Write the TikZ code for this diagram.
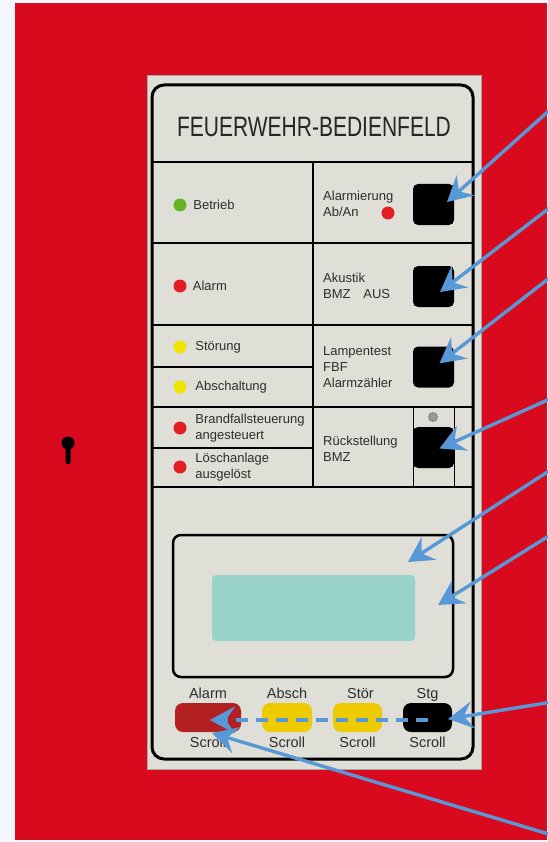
\documentclass[tikz,border=0pt]{standalone}
\usepackage{fontspec}
\setmainfont{Liberation Sans}
\usetikzlibrary{arrows.meta,positioning}

\definecolor{hintergrund}{RGB}{243,247,251}
\definecolor{gehaeuse}{RGB}{218,10,30}
\definecolor{feld}{RGB}{223,223,216}
\definecolor{schrift}{RGB}{45,45,45}
\definecolor{ledgruen}{RGB}{100,180,40}
\definecolor{ledrot}{RGB}{226,30,36}
\definecolor{ledgelb}{RGB}{242,226,0}
\definecolor{lcdtuerkis}{RGB}{152,210,200}
\definecolor{tastrot}{RGB}{178,32,34}
\definecolor{tastgelb}{RGB}{238,202,0}
\definecolor{pfeilblau}{RGB}{88,152,214}

\tikzset{
  led/.style={circle, inner sep=0pt, minimum size=13pt},
  taste/.style={fill=black, rounded corners=5pt, inner sep=0pt, minimum size=41pt},
  beschr/.style={anchor=west, inner sep=0pt, text=schrift, align=left,
    font=\fontsize{13}{16}\selectfont},
  kopf/.style={inner sep=0pt, text=schrift, text depth=0pt,
    font=\fontsize{14.5}{17}\selectfont},
  scrolltaste/.style={rounded corners=8pt, inner sep=0pt, minimum height=29pt},
  raster/.style={line width=2.8pt},
  pfeil/.style={draw=pfeilblau, line width=3.4pt,
    -{Stealth[length=25pt, width=27pt, inset=9pt]}}
}

\begin{document}
\begin{tikzpicture}[x=1pt, y=-1pt]

        \useasboundingbox (0,0) rectangle (547,842);

        % --- Gehaeuse ---
        \fill[hintergrund] (0,0) rectangle (547,842);
        \fill[gehaeuse] (15,3) rectangle (547,840);
        \fill[black] (68,443) circle (6.5pt);
        \fill[black, rounded corners=2pt] (65.5,445) rectangle (70.5,464);

        % --- Bedienfeld ---
        \filldraw[draw=gray!70, fill=feld, line width=0.8pt] (147,75) rectangle (481,769);
        \draw[line width=3pt, rounded corners=12pt] (152,85) rectangle (473,759);
        \node[inner sep=0pt, text=black!85] (titel) at (314,127)
            {\scalebox{0.75}[1]{\fontsize{28}{30}\selectfont FEUERWEHR-BEDIENFELD}};

        % --- Raster ---
        \draw[raster] (152,162) -- (473,162);
        \draw[raster] (313,162) -- (313,487);
        \draw[raster] (152,243) -- (473,243);
        \draw[raster] (152,325) -- (473,325);
        \draw[raster] (152,407) -- (473,407);
        \draw[raster] (152,487) -- (473,487);
        \draw[raster] (152,367) -- (313,367);
        \draw[raster] (152,448) -- (313,448);
        \draw[line width=1pt] (413,407) -- (413,487);
        \draw[line width=1pt] (454,407) -- (454,487);

        % --- Anzeigen links ---
        \node[led, fill=ledgruen] (ledBetrieb) at (180,205) {};
        \node[beschr, right=6.5pt of ledBetrieb] (txtBetrieb) {Betrieb};
        \node[led, fill=ledrot] (ledAlarm) at (180,286) {};
        \node[beschr, right=6pt of ledAlarm] (txtAlarm) {Alarm};
        \node[led, fill=ledgelb] (ledStoerung) at (180,347) {};
        \node[beschr, right=8.5pt of ledStoerung] (txtStoerung) {Störung};
        \node[led, fill=ledgelb] (ledAbschaltung) at (180,387) {};
        \node[beschr, right=8.5pt of ledAbschaltung] (txtAbschaltung) {Abschaltung};
        \node[led, fill=ledrot] (ledBrandfall) at (180,428) {};
        \node[beschr, right=8.5pt of ledBrandfall] (txtBrandfall)
            {Brandfallsteuerung\\angesteuert};
        \node[led, fill=ledrot] (ledLoeschen) at (180,467) {};
        \node[beschr, right=8.5pt of ledLoeschen] (txtLoeschen)
            {Löschanlage\\ausgelöst};

        % --- Tasten rechts ---
        \node[beschr] (txtAlarmierung) at (323,204) {Alarmierung\\Ab/An};
        \node[led, fill=ledrot] (ledAbAn) at (388,213) {};
        \node[taste] (tAlarmierung) at (433.5,204.5) {};
        \node[beschr] (txtAkustik) at (323,286) {Akustik\\BMZ\hspace{0.7em} AUS};
        \node[taste] (tAkustik) at (433.5,286.5) {};
        \node[beschr] (txtLampentest) at (323,367) {Lampentest\\FBF\\Alarmzähler};
        \node[taste] (tLampentest) at (433.5,367) {};
        \node[beschr] (txtRueck) at (323,449) {Rückstellung\\BMZ};
        \node[circle, fill=gray!80, draw=gray, line width=0.8pt, inner sep=0pt,
            minimum size=9pt] (ledRueck) at (433,417) {};
        \node[taste] (tRueck) at (433.5,447.5) {};

        % --- Display ---
        \node[draw, fill=feld, line width=2.5pt, rounded corners=8pt,
            minimum width=280pt, minimum height=142pt] (anzeige) at (313,606) {};
        \node[fill=lcdtuerkis, rounded corners=4pt, inner sep=0pt,
            minimum width=203pt, minimum height=66pt] (lcd) at (313.5,608) {};

        % --- Scroll-Tasten ---
        \node[scrolltaste, fill=tastrot, minimum width=66pt] (bAlarm) at (208,717.5) {};
        \node[scrolltaste, fill=tastgelb, minimum width=50pt] (bAbsch) at (287,717.5) {};
        \node[scrolltaste, fill=tastgelb, minimum width=49pt] (bStoer) at (357.5,717.5) {};
        \node[scrolltaste, fill=black, minimum width=49pt] (bStg) at (427.5,717.5) {};
        \node[kopf, above=4pt of bAlarm] (kAlarm) {Alarm};
        \node[kopf, above=4pt of bAbsch] (kAbsch) {Absch};
        \node[kopf, above=4pt of bStoer, xshift=3pt] (kStoer) {Stör};
        \node[kopf, above=4pt of bStg] (kStg) {Stg};
        \node[kopf, below=5pt of bAlarm] (sAlarm) {Scroll};
        \node[kopf, below=5pt of bAbsch] (sAbsch) {Scroll};
        \node[kopf, below=5pt of bStoer] (sStoer) {Scroll};
        \node[kopf, below=5pt of bStg] (sStg) {Scroll};

        % --- Hinweispfeile ---
        \coordinate (q1) at (552,108);
        \coordinate (q2) at (552,206);
        \coordinate (q3) at (552,276);
        \coordinate (q4) at (552,398);
        \coordinate (q5) at (552,469);
        \coordinate (q6) at (552,534);
        \coordinate (q7) at (552,702);
        \coordinate (q8) at (552,835);
        \draw[pfeil] (q1) -- ([xshift=13.5pt, yshift=2.5pt]tAlarmierung.center);
        \draw[pfeil] (q2) -- ([xshift=6.5pt, yshift=-5.5pt]tAkustik.center);
        \draw[pfeil] (q3) -- ([xshift=6pt, yshift=3.7pt]tLampentest.center);
        \draw[pfeil] (q4) -- ([xshift=6pt, yshift=-1pt]tRueck.center);
        \draw[pfeil] (q5) -- ([xshift=95pt, yshift=44pt]anzeige.center);
        \draw[pfeil] (q6) -- ([xshift=125pt, yshift=1pt]anzeige.center);
        \draw[pfeil] (q7) -- ([xshift=20.5pt, yshift=-1.5pt]bStg.center);
        \draw[pfeil] (q8) -- ([xshift=4pt, yshift=-15.5pt]bAlarm.center);
        \draw[pfeil, dash pattern=on 12pt off 8pt]
            ([yshift=-2.5pt]bStg.center) -- ([xshift=2pt, yshift=-2.5pt]bAlarm.center);

    \end{tikzpicture}
\end{document}
